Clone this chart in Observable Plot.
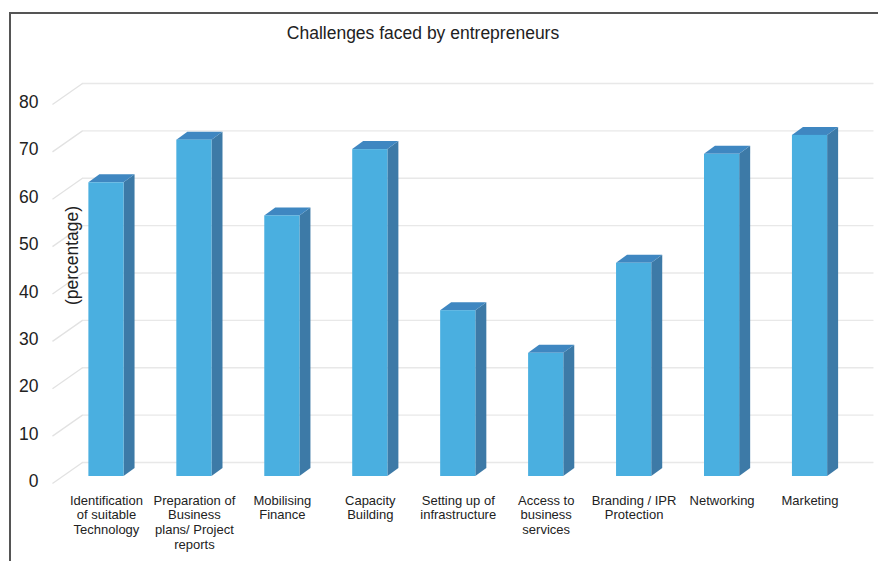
<!DOCTYPE html>
<html>
<head>
<meta charset="utf-8">
<script src="https://cdn.jsdelivr.net/npm/d3@7"></script>
<script src="https://cdn.jsdelivr.net/npm/@observablehq/plot@0.6"></script>
<style>
  html, body { margin: 0; padding: 0; background: #fff; }
  #wrap { position: relative; width: 878px; height: 561px; overflow: hidden; font-family: "Liberation Sans", Arial, Helvetica, sans-serif; }
  #title { height: 37px; padding-top: 23px; line-height: 20px; font-size: 17.5px; color: #222; text-align: center; width: 846px; }
  .frameTop { position: absolute; left: 9px; top: 12px; width: 869px; height: 2px; background: #555; }
  .frameLeft { position: absolute; left: 9px; top: 12px; width: 2px; height: 549px; background: #555; }
  svg { display: block; }
</style>
</head>
<body>
<div id="wrap">
  <div id="title">Challenges faced by entrepreneurs</div>
  <div id="chart"></div>
  <div class="frameTop"></div>
  <div class="frameLeft"></div>
</div>
<script>
const categories = [
  "Identification\nof suitable\nTechnology",
  "Preparation of\nBusiness\nplans/ Project\nreports",
  "Mobilising\nFinance",
  "Capacity\nBuilding",
  "Setting up of\ninfrastructure",
  "Access to\nbusiness\nservices",
  "Branding / IPR\nProtection",
  "Networking",
  "Marketing"
];
const values = [62, 71, 55, 69, 35, 26, 45, 68, 72];
const yTicks = [0, 10, 20, 30, 40, 50, 60, 70, 80];
const yLabel = "(percentage)";

// 3D styling constants (in scale units)
const hw = 0.2;          // half width of bar front face
const barDX = 0.125;     // bar depth along x
const barDY = 1.69;      // bar depth along y
const wallDX = 0.227;    // back wall offset along x
const wallDY = 2.95;     // back wall offset along y
const foreDX = 0.114;    // diagonal extension in front
const foreDY = 1.48;

const bars = categories.map((c, i) => ({i, c, v: values[i]}));
const sidePts = bars.flatMap(d => [
  {z: d.i, x: d.i + hw, y1: 0, y2: d.v},
  {z: d.i, x: d.i + hw + barDX, y1: barDY, y2: d.v + barDY}
]);
const topPts = bars.flatMap(d => [
  {z: d.i, y: d.v, x1: d.i - hw, x2: d.i + hw},
  {z: d.i, y: d.v + barDY, x1: d.i - hw + barDX, x2: d.i + hw + barDX}
]);

const chart = Plot.plot({
  width: 878,
  height: 501,
  marginLeft: 62,
  marginRight: 24.5,
  marginTop: 37,
  marginBottom: 85,
  style: {fontFamily: "'Liberation Sans', Arial, Helvetica, sans-serif", color: "#222", background: "transparent"},
  x: {type: "linear", domain: [-0.5, 8.5], axis: null},
  y: {domain: [0, 80], axis: null},
  marks: [
    // back wall gridlines
    Plot.ruleY(yTicks, {y: d => d + wallDY, x1: -0.5 + wallDX, x2: 8.5 + wallDX, stroke: "#e8e8e8", strokeWidth: 1.3}),
    // side wall diagonals
    Plot.link(yTicks, {x1: -0.5 - foreDX, y1: d => d - foreDY, x2: -0.5 + wallDX, y2: d => d + wallDY, stroke: "#e2e2e2", strokeWidth: 1.3}),
    // bar side faces
    Plot.areaY(sidePts, {x: "x", y1: "y1", y2: "y2", z: "z", fill: "#3d7aa7", curve: "linear"}),
    // bar top faces
    Plot.areaX(topPts, {y: "y", x1: "x1", x2: "x2", z: "z", fill: "#3f87c1", curve: "linear"}),
    // bar front faces
    Plot.rectY(bars, {x1: d => d.i - hw, x2: d => d.i + hw, y1: 0, y2: "v", fill: "#4aafe0"}),
    // y axis tick labels
    Plot.axisY(yTicks, {tickSize: 0, tickPadding: 24, dy: 5, fontSize: 17.5, label: null, color: "#222"}),
    // y axis title
    Plot.text([yLabel], {frameAnchor: "left", textAnchor: "middle", rotate: -90, dx: 10, dy: -31.5, fontSize: 17.5, fill: "#222"}),
    // category labels
    Plot.text(bars, {x: "i", y: 0, text: "c", lineAnchor: "top", dy: 18, fontSize: 13, lineHeight: 1.12, fill: "#222"})
  ]
});
document.getElementById("chart").appendChild(chart);
</script>
</body>
</html>
